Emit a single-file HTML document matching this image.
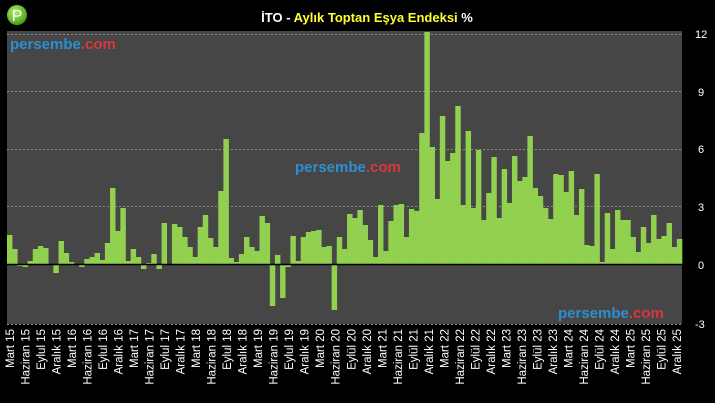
<!DOCTYPE html>
<html><head><meta charset="utf-8"><style>
body{margin:0;background:#000;width:715px;height:403px;overflow:hidden}
svg{display:block}
text{font-family:"Liberation Sans",sans-serif}
</style></head><body>
<svg id="s" width="715" height="403" xmlns="http://www.w3.org/2000/svg">
<defs>
<radialGradient id="lg" cx="40%" cy="35%" r="70%"><stop offset="0" stop-color="#b6f06a"/><stop offset="1" stop-color="#3c9a10"/></radialGradient>
</defs>
<rect x="0" y="0" width="715" height="403" fill="#000"/>
<rect x="7" y="31" width="675" height="293" fill="#464646"/>
<g stroke="#8a8a8a" stroke-dasharray="2,2" stroke-width="1">
<line x1="7" x2="682" y1="34.5" y2="34.5"/>
<line x1="7" x2="682" y1="91.5" y2="91.5"/>
<line x1="7" x2="682" y1="149.5" y2="149.5"/>
<line x1="7" x2="682" y1="206.5" y2="206.5"/>
<line x1="7" x2="682" y1="324.5" y2="324.5"/>
</g>
<g id="bars" fill="#92d050"></g>
<line x1="7" x2="682" y1="264.5" y2="264.5" stroke="#000" stroke-width="1.5"/>
<circle cx="17" cy="15" r="10" fill="url(#lg)"/>
<text x="17" y="21" fill="#fff" font-size="16" text-anchor="middle">P</text>
<text x="367" y="22" font-size="13" font-weight="bold" text-anchor="middle"><tspan fill="#fff">İTO - </tspan><tspan fill="#ffff33">Aylık Toptan Eşya Endeksi</tspan><tspan fill="#fff"> %</tspan></text>
<g font-size="15" font-weight="bold">
<text x="10" y="49"><tspan fill="#2e8fcf">persembe</tspan><tspan fill="#d8383d">.com</tspan></text>
<text x="295" y="172"><tspan fill="#2e8fcf">persembe</tspan><tspan fill="#d8383d">.com</tspan></text>
<text x="558" y="318"><tspan fill="#2e8fcf">persembe</tspan><tspan fill="#d8383d">.com</tspan></text>
</g>
<g fill="#fff" font-size="11" text-anchor="start">
<text x="695" y="38">12</text>
<text x="698" y="96">9</text>
<text x="698" y="153">6</text>
<text x="698" y="211">3</text>
<text x="698" y="269">0</text>
<text x="695" y="328">-3</text>
</g>
<g id="lab" fill="#fff" font-size="11.5"></g>
</svg>
<script>
var t=[235,249,266,267,261,249,246,248,264,273,241,253,262,264,267,259,257,253,260,243,188,231,208,261,249,257,269,263,254,269,223,264,224,227,237,247,257,227,215,238,247,191,139,258,262,
254,237,247,251,216,223,306,255,298,267,236,261,237,232,231,230,247,246,310,237,249,214,218,210,225,240,257,205,251,221,205,204,237,209,211,133,32,
147,199,116,161,153,106,205,131,208,150,220,193,157,218,169,203,156,181,177,136,188,196,208,219,174,175,192,171,215,189,245,246,174,262,213,249,210,220,220,237,252,227,243,215,239,236,223,247,239];
var N=t.length,w=675/N,g=document.getElementById('bars'),h='';
for(var i=0;i<N;i++){var x=7+i*w,y=t[i],z=264.5;var a=Math.min(y,z),b=Math.max(y,z);
h+='<rect x="'+x.toFixed(2)+'" y="'+a+'" width="'+(w+0.3).toFixed(2)+'" height="'+(b-a)+'"/>';}
g.innerHTML=h;
var m=['Mart','Haziran','Eylul','Aralık'],L='';
for(var k=0;k<44;k++){var yr=15+Math.floor(k/4),mm=m[k%4];if(mm=='Eylul'&&yr>=20)mm='Eylül';
var x=10+k*(667/43)+4;
L+='<text transform="translate('+x.toFixed(1)+',329) rotate(-90)" text-anchor="end">'+mm+' '+yr+'</text>';}
document.getElementById('lab').innerHTML=L;
</script>
</body></html>
